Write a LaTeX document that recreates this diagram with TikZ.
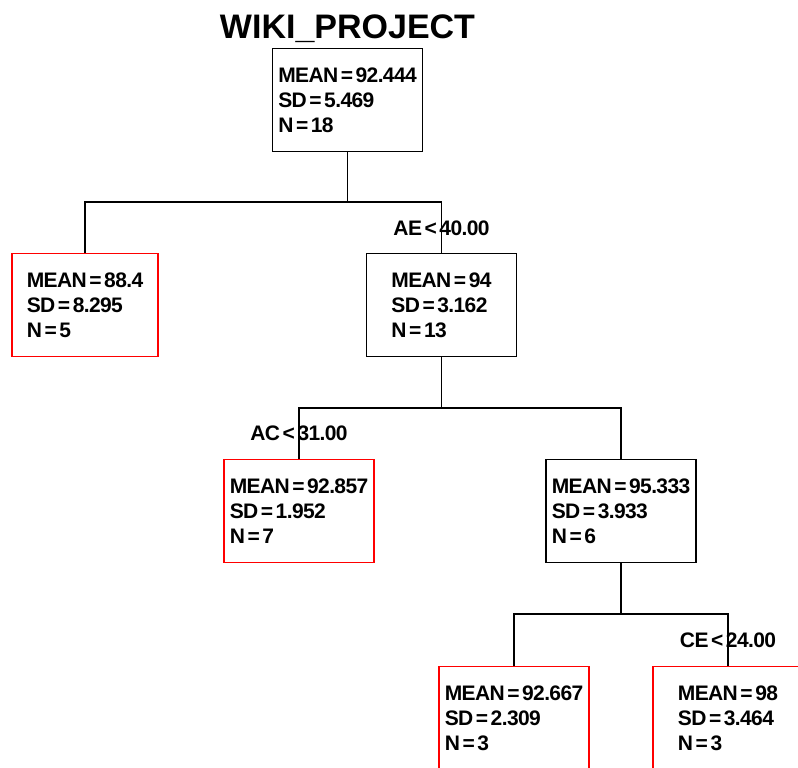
\documentclass[tikz,border=0pt]{standalone}
\usepackage{fontspec}
\setmainfont[WordSpace=0.5]{Liberation Sans}
\newfontfamily\boitefont[LetterSpace=-3, WordSpace=0.5]{Liberation Sans}
\usepackage{tikz}
\usetikzlibrary{calc}

\begin{document}
\begin{tikzpicture}[x=1pt, y=-1pt,
    boite/.style={draw, line width=1.1pt, minimum width=150pt, minimum height=103pt,
        inner sep=0pt, align=left, anchor=north, font=\boitefont\bfseries\fontsize{21}{25}\selectfont},
    feuille/.style={boite, draw=red},
    seuil/.style={anchor=base, font=\boitefont\bfseries\fontsize{21}{25}\selectfont},
    lien/.style={line width=1.4pt}]
    % Cadre de la page
    \useasboundingbox (0,0) rectangle (798,768);
    \fill[white] (0,0) rectangle (798,768);
    \clip (0,0) rectangle (798,768);

    % Racine et titre
    \node[boite] (racine) at (347.5,48) {MEAN = 92.444\\SD = 5.469\\N = 18};
    \node[anchor=base, font=\bfseries\fontsize{34}{40}\selectfont] (titre) at ([yshift=9pt]racine.north) {WIKI\_PROJECT};

    % Premier niveau
    \node[feuille, minimum width=146pt] (gauche) at (85,253) {MEAN = 88.4\\SD = 8.295\\N = 5};
    \node[boite] (ae) at (441.5,253) {MEAN = 94\\SD = 3.162\\N = 13};
    \node[seuil] (seuilae) at ([yshift=18pt]ae.north) {AE < 40.00};

    % Deuxieme niveau
    \node[feuille] (ac) at (299,459) {MEAN = 92.857\\SD = 1.952\\N = 7};
    \node[boite] (droite) at (621,459) {MEAN = 95.333\\SD = 3.933\\N = 6};
    \node[seuil] (seuilac) at ([yshift=19pt]ac.north) {AC < 31.00};

    % Troisieme niveau
    \node[feuille] (bas) at (514,666) {MEAN = 92.667\\SD = 2.309\\N = 3};
    \node[feuille] (ce) at (728,666) {MEAN = 98\\SD = 3.464\\N = 3};
    \node[seuil] (seuilce) at ([yshift=19pt]ce.north) {CE < 24.00};

    % Points de partage
    \coordinate (p1) at (347.5,202);
    \coordinate (p2) at (441.5,408);
    \coordinate (p3) at (621,614);

    % Liens
    \draw[lien] (racine.south) -- (p1);
    \draw[lien] (gauche.north) |- (p1) -| (ae.north);
    \draw[lien] (ae.south) -- (p2);
    \draw[lien] (ac.north) |- (p2) -| (droite.north);
    \draw[lien] (droite.south) -- (p3);
    \draw[lien] (bas.north) |- (p3) -| (ce.north);
\end{tikzpicture}
\end{document}
